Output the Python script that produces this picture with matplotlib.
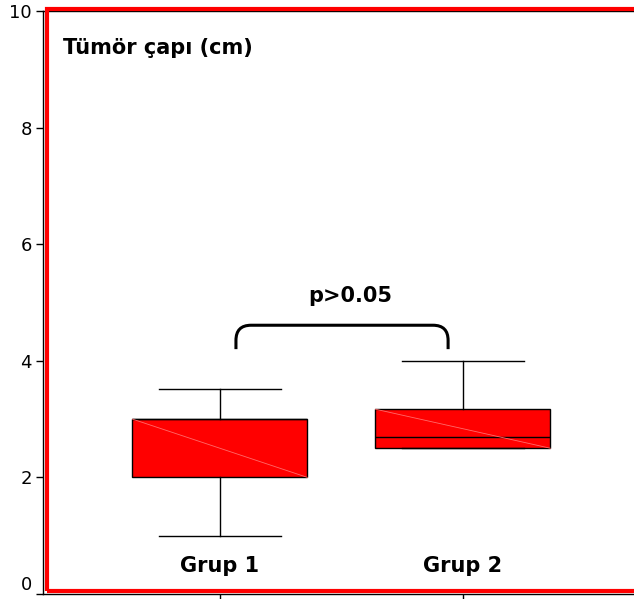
import matplotlib
matplotlib.use("Agg")
import matplotlib.pyplot as plt
import matplotlib.transforms as mtransforms
from matplotlib.patches import Rectangle, PathPatch
from matplotlib.path import Path

plt.rcParams['font.family'] = ['DejaVu Sans']

groups = ["Grup 1", "Grup 2"]
positions = [1, 2]
whislo = [1.0, 2.5]
q1 = [2.0, 2.5]
med = [3.0, 2.7]
q3 = [3.0, 3.17]
whishi = [3.52, 4.0]
title_text = "Tümör çapı (cm)"
p_text = "p>0.05"
yticks = [0, 2, 4, 6, 8, 10]

fig = plt.figure(figsize=(6.34, 5.99), dpi=100)
ax = fig.add_axes([43/634, 5/599, 1 - 43/634, (594-11)/599])

stats = []
for i in range(len(groups)):
    stats.append(dict(whislo=whislo[i], q1=q1[i], med=med[i], q3=q3[i],
                      whishi=whishi[i], fliers=[], label=groups[i]))

ax.bxp(stats, positions=positions, widths=0.72, capwidths=0.5, patch_artist=True,
       showfliers=False,
       boxprops=dict(facecolor='#ff0000', edgecolor='black', linewidth=1.0),
       medianprops=dict(color='black', linewidth=1.0),
       whiskerprops=dict(color='black', linewidth=1.0),
       capprops=dict(color='black', linewidth=1.0))

# faint diagonal artifact across boxes
for i, p in enumerate(positions):
    ax.plot([p - 0.36, p + 0.36], [q3[i], q1[i]], color='#ff6a6a', lw=0.6, zorder=3)

ax.set_xlim(0.272, 2.704)
ax.set_ylim(0, 10)
ax.set_yticks(yticks)
ax.set_xticks(positions)
ax.set_xticklabels([])
ax.tick_params(axis='both', direction='out', length=5, width=1, labelsize=13, pad=3)
ax.spines['right'].set_visible(False)
ax.spines['top'].set_visible(True)
for s in ['left', 'bottom', 'top']:
    ax.spines[s].set_linewidth(1.0)

# shift the "0" label up like the reference
fig.canvas.draw()
lab0 = ax.get_yticklabels()[0]
lab0.set_transform(lab0.get_transform() +
                   mtransforms.ScaledTranslation(0, 11/100, fig.dpi_scale_trans))

for g, p in zip(groups, positions):
    ax.text(p, 0.48, g, ha='center', va='center', fontsize=15, fontweight='bold')

ax.text(0.354, 9.37, title_text, ha='left', va='center', fontsize=15, fontweight='bold')
ax.text(1.535, 5.11, p_text, ha='center', va='center', fontsize=15, fontweight='bold')

# bracket
x0, x1, ytop, ybot = 1.066, 1.939, 4.61, 4.2
rx, ry = 0.062, 0.26
verts = [(x0, ybot), (x0, ytop - ry), (x0, ytop), (x0 + rx, ytop),
         (x1 - rx, ytop), (x1, ytop), (x1, ytop - ry), (x1, ybot)]
codes = [Path.MOVETO, Path.LINETO, Path.CURVE3, Path.CURVE3,
         Path.LINETO, Path.CURVE3, Path.CURVE3, Path.LINETO]
ax.add_patch(PathPatch(Path(verts, codes), fill=False, edgecolor='black', lw=2.2,
                       capstyle='butt'))

# red frame
fig.patches.append(Rectangle((47/634, (599-590.5)/599), 1.2, (590.5-9)/599,
                             transform=fig.transFigure, fill=False,
                             edgecolor='#ff0000', lw=3.0, zorder=5))

fig.savefig("out.png", dpi=100)
